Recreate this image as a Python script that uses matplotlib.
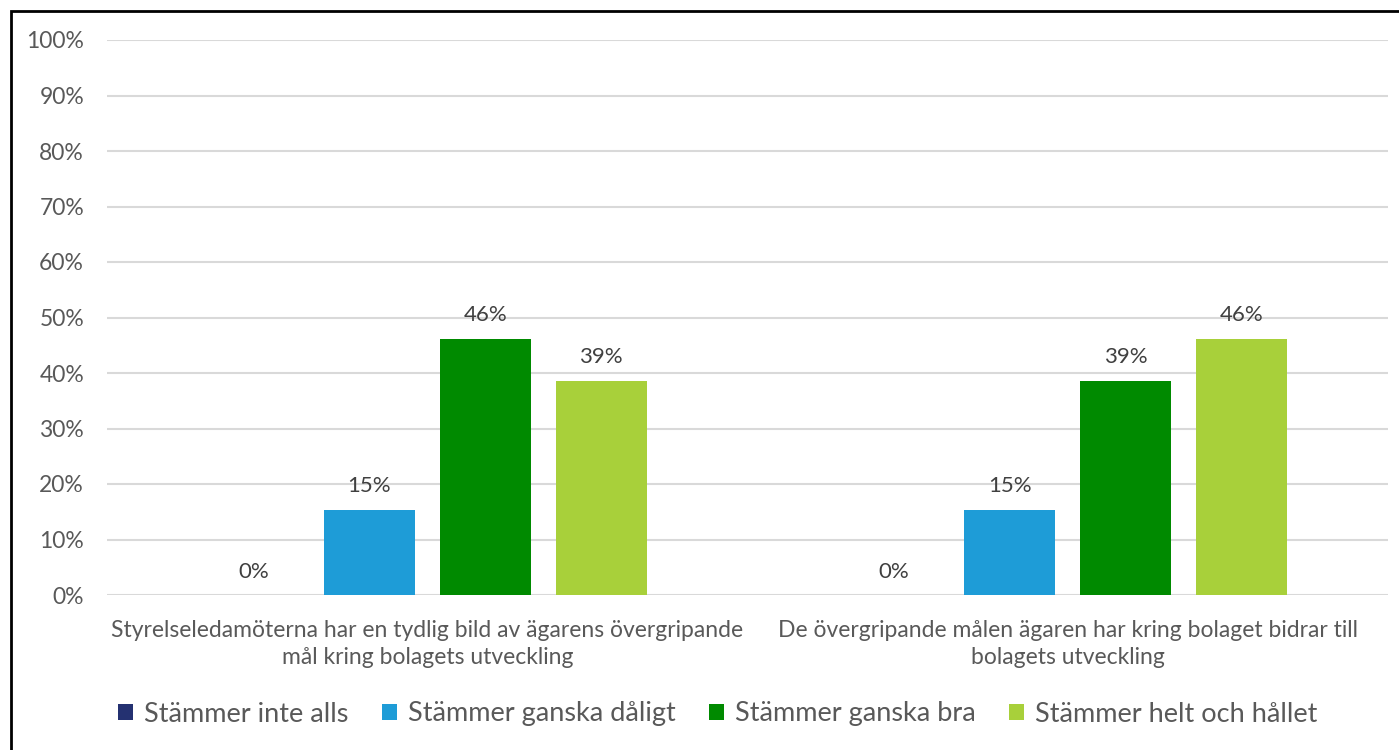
import matplotlib
matplotlib.use("Agg")
import matplotlib.pyplot as plt
import numpy as np
from matplotlib.patches import Rectangle

plt.rcParams['font.family'] = ['Lato', 'DejaVu Sans']

categories = ["Styrelseledamöterna har en tydlig bild av ägarens övergripande\nmål kring bolagets utveckling",
              "De övergripande målen ägaren har kring bolaget bidrar till\nbolagets utveckling"]
series = ["Stämmer inte alls", "Stämmer ganska dåligt", "Stämmer ganska bra", "Stämmer helt och hållet"]
values = [
    [0.0, 0.0],
    [15.4, 15.4],
    [46.2, 38.6],
    [38.6, 46.2],
]
colors = ["#243171", "#1E9CD7", "#008A00", "#A8D03A"]
yticks = [0, 10, 20, 30, 40, 50, 60, 70, 80, 90, 100]

W, H = 1399, 750
fig = plt.figure(figsize=(W/100, H/100), dpi=100)
ax = fig.add_axes([107/W, 1-595/H, (1388-107)/W, (595-40)/H])

txt = "#595959"
x = np.arange(len(categories))
step = 0.181
bw = 0.142
for i, (s, v, c) in enumerate(zip(series, values, colors)):
    pos = x + (i - 1.5) * step
    ax.bar(pos, v, width=bw, color=c, label=s, zorder=3)
    for p, val in zip(pos, v):
        ax.text(p, val + 2.4, f"{int(val + 0.5)}%", ha="center", va="bottom", fontsize=16, color="#404040")

ax.set_xlim(-0.5, 1.5)
ax.set_ylim(0, 100)
ax.set_yticks(yticks)
ax.set_yticklabels([f"{t}%" for t in yticks], fontsize=16.5, color=txt)
ax.yaxis.grid(True, color="#d9d9d9", linewidth=1.5, zorder=0)
ax.set_xticks(x)
ax.set_xticklabels(categories, fontsize=16.5, color=txt, linespacing=1.35)
ax.tick_params(axis="both", length=0)
ax.tick_params(axis="y", pad=16.5)
ax.tick_params(axis="x", pad=18)
for sp in ax.spines.values():
    sp.set_visible(False)

fig.legend(loc="center", bbox_to_anchor=(0.513, 1-714/H), ncol=4, frameon=False,
           fontsize=19.5, labelcolor=txt, handlelength=0.55, handleheight=0.55,
           handletextpad=0.4, columnspacing=1.25)

fig.patches.append(Rectangle((11/W, -0.01), 1.02, 1-11/H+0.01, transform=fig.transFigure,
                             fill=False, edgecolor="black", linewidth=2))

fig.savefig("out.png", dpi=100)
